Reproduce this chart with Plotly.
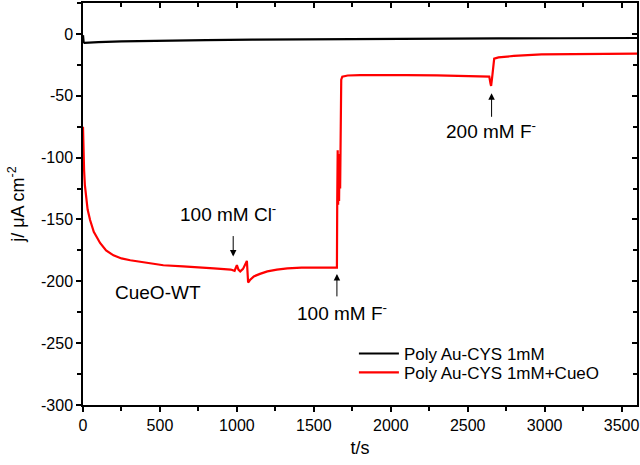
import plotly.graph_objects as go

# Black series: Poly Au-CYS 1mM
t_black = [0, 4, 10, 30, 100, 250, 500, 800, 1100, 1500, 1900, 2300, 2700, 3100, 3600]
j_black = [-1.0, -6.5, -7.2, -7.0, -6.6, -6.0, -5.4, -5.0, -4.6, -4.2, -3.9, -3.7, -3.6, -3.5, -3.3]

# Red series: Poly Au-CYS 1mM+CueO
t_red = [0, 3, 7, 12, 20, 30, 46, 70, 111, 150, 198, 250, 307, 400, 522, 650, 741, 850, 960,
         985, 1000, 1010, 1022, 1040, 1065, 1068, 1073, 1085, 1110, 1150, 1198, 1260, 1328,
         1420, 1502, 1600, 1650, 1652, 1655, 1658, 1661, 1664, 1667, 1671, 1675, 1678, 1685,
         1700, 1720, 1800, 1937, 2100, 2300, 2500, 2600, 2640, 2648, 2652, 2658, 2666, 2672,
         2700, 2800, 2980, 3300, 3600]
j_red = [-75, -95, -110, -122, -133, -142, -150.5, -160, -169, -175, -179, -181.5, -183, -185,
         -187, -188, -188.5, -189.5, -190.5, -191.5, -187, -190.5, -192, -190, -183.5, -190,
         -201, -199, -196, -194, -192, -190.5, -189.5, -189, -189, -189, -189, -137, -94,
         -138, -97, -135, -100, -125, -70, -37, -34.5, -34, -33.6, -33.3, -33.1, -33.3, -33.5,
         -33.8, -34.0, -34.5, -40, -42, -36, -22, -20, -19, -17.8, -16.6, -16.2, -15.9]

# Tick values and labels
x_ticks = [0, 500, 1000, 1500, 2000, 2500, 3000, 3500]
x_ticktext = ["0", "500", "1000", "1500", "2000", "2500", "3000", "3500"]
y_ticks = [0, -50, -100, -150, -200, -250, -300]
y_ticktext = ["0", "-50", "-100", "-150", "-200", "-250", "-300"]

# Annotation labels
label_cl = "100 mM Cl<sup>-</sup>"
label_f100 = "100 mM F<sup>-</sup>"
label_f200 = "200 mM F<sup>-</sup>"
label_wt = "CueO-WT"

FONT = "Liberation Sans, Arial, sans-serif"

fig = go.Figure()
fig.add_trace(go.Scatter(x=t_black, y=j_black, mode="lines", name="Poly Au-CYS 1mM",
                         line=dict(color="#000000", width=2.2), legend="legend"))
fig.add_trace(go.Scatter(x=t_red, y=j_red, mode="lines", name="Poly Au-CYS 1mM+CueO",
                         line=dict(color="#ff0000", width=2.2), legend="legend2"))
# invisible trace to host the mirror (top/right) axes
fig.add_trace(go.Scatter(x=[0], y=[0], xaxis="x2", yaxis="y2", mode="lines",
                         showlegend=False, hoverinfo="skip", line=dict(width=0)))

axis_common = dict(showgrid=False, zeroline=False, showline=True, linecolor="black",
                   linewidth=1.5, tickcolor="black", tickwidth=1.5, automargin=False)

legend_common = dict(x=0.489, xanchor="left", yanchor="middle", bgcolor="rgba(0,0,0,0)",
                     font=dict(size=17), itemwidth=40, borderwidth=0)

fig.update_layout(
    width=640, height=465,
    margin=dict(l=83, r=3, t=3, b=60),
    paper_bgcolor="white", plot_bgcolor="white",
    font=dict(family=FONT, size=16, color="black"),
    xaxis=dict(range=[0, 3600], tickvals=x_ticks, ticktext=x_ticktext,
               ticks="outside", ticklen=5, tickfont=dict(size=16),
               minor=dict(dtick=250, tick0=0, ticks="outside", ticklen=4, tickwidth=1.5, tickcolor="black"),
               title=dict(text="t/s", font=dict(size=18), standoff=8),
               **axis_common),
    yaxis=dict(range=[-300, 25], tickvals=y_ticks, ticktext=y_ticktext,
               ticks="outside", ticklen=5, tickfont=dict(size=16),
               minor=dict(dtick=25, tick0=0, ticks="outside", ticklen=4, tickwidth=1.5, tickcolor="black"),
               title=dict(text="j/ μA cm<sup>-2</sup>", font=dict(size=18), standoff=12),
               **axis_common),
    xaxis2=dict(overlaying="x", side="top", range=[0, 3600], showticklabels=False,
                tickvals=x_ticks, ticks="inside", ticklen=5,
                minor=dict(dtick=250, tick0=0, ticks="inside", ticklen=4, tickwidth=1.5, tickcolor="black"),
                **axis_common),
    yaxis2=dict(overlaying="y", side="right", range=[-300, 25], showticklabels=False,
                tickvals=y_ticks, ticks="inside", ticklen=5,
                minor=dict(dtick=25, tick0=0, ticks="inside", ticklen=4, tickwidth=1.5, tickcolor="black"),
                **axis_common),
    legend=dict(y=0.127, **legend_common),
    legend2=dict(y=0.080, **legend_common),
    showlegend=True,
)

arrow_common = dict(xref="x", yref="y", axref="pixel", ayref="pixel", showarrow=True,
                    arrowhead=2, arrowsize=1.3, arrowwidth=1, arrowcolor="black", text="")
fig.add_annotation(x=976, y=-180, ax=0, ay=-22, **arrow_common)
fig.add_annotation(x=1650, y=-194, ax=0, ay=24, **arrow_common)
fig.add_annotation(x=2655, y=-48, ax=0, ay=25, **arrow_common)

text_common = dict(xref="x", yref="y", showarrow=False, font=dict(size=19, color="black"))
fig.add_annotation(x=945, y=-145, text=label_cl, **text_common)
fig.add_annotation(x=485, y=-209, text=label_wt, **text_common)
fig.add_annotation(x=1680, y=-225, text=label_f100, **text_common)
fig.add_annotation(x=2650, y=-78, text=label_f200, **text_common)

fig.write_html("out.html", config={"displayModeBar": False},
               post_script="document.body.style.margin='0';document.body.style.overflow='hidden';")
